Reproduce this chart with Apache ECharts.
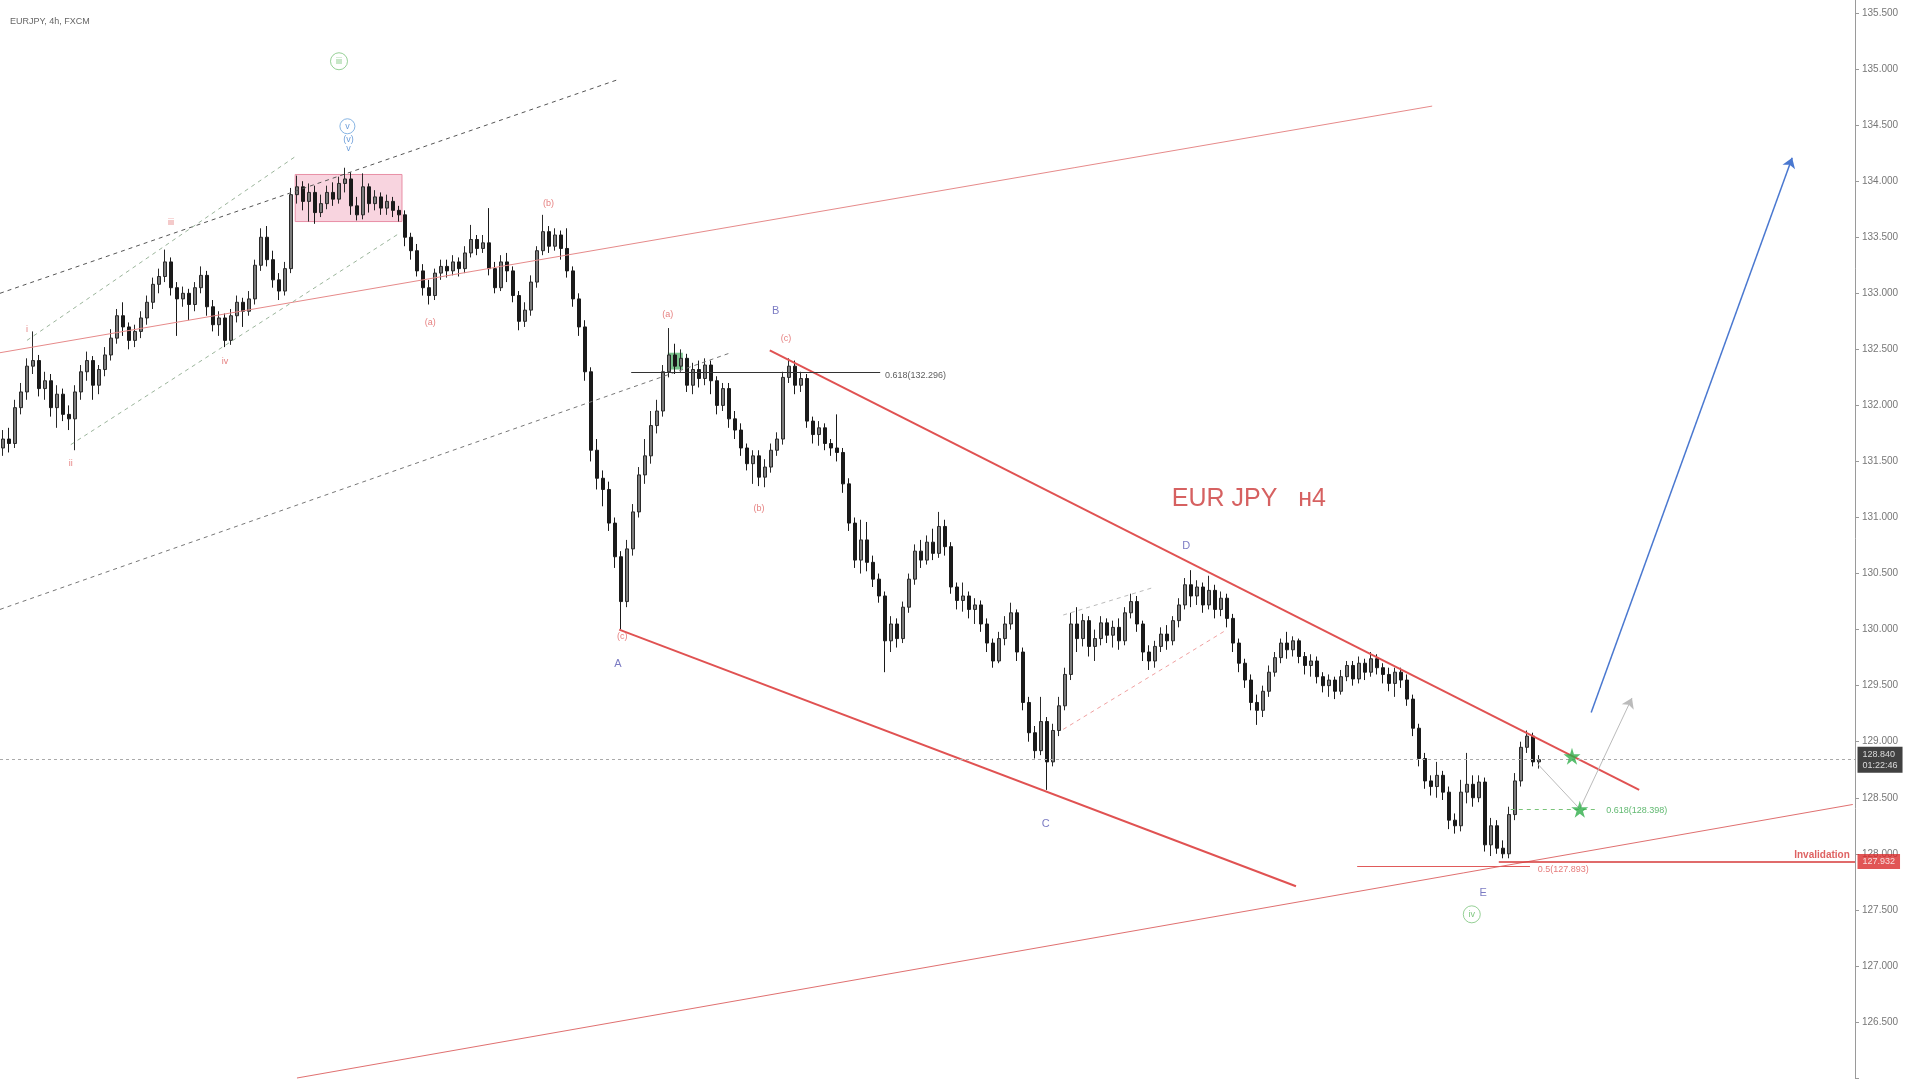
<!DOCTYPE html>
<html><head><meta charset="utf-8">
<script src="https://cdn.jsdelivr.net/npm/echarts@6/dist/echarts.min.js"></script>
<style>html,body{margin:0;padding:0;background:#fff}#c{width:1911px;height:1081px}</style>
</head><body><div id="c"></div>
<script>
// ---- candles: [open, close, low, high], one row per 4h bar ----
const waveI = [
[131.62,131.70,131.55,131.78],[131.70,131.66,131.58,131.80],[131.66,131.98,131.62,132.05],
[131.98,132.12,131.92,132.20],[132.12,132.35,132.05,132.42],[132.35,132.40,132.28,132.66]];
const waveII = [
[132.40,132.15,132.08,132.45],[132.15,132.22,132.05,132.30],[132.22,131.98,131.90,132.28],
[131.98,132.10,131.80,132.18],[132.10,131.92,131.86,132.15],[131.92,131.88,131.78,132.00],
[131.88,132.12,131.60,132.18]];
const waveIII = [
[132.12,132.30,132.05,132.36],[132.30,132.40,132.22,132.48],[132.40,132.18,132.05,132.44],
[132.18,132.32,132.10,132.36],[132.32,132.45,132.26,132.52],[132.45,132.60,132.40,132.68],
[132.60,132.80,132.55,132.86],[132.80,132.70,132.62,132.92],[132.70,132.58,132.50,132.74],
[132.58,132.66,132.52,132.72],[132.66,132.78,132.60,132.84],[132.78,132.92,132.72,132.98],
[132.92,133.08,132.86,133.14],[133.08,133.15,133.00,133.22],[133.15,133.28,133.10,133.39]];
const waveIV = [
[133.28,133.05,132.98,133.32],[133.05,132.95,132.62,133.10],[132.95,133.00,132.88,133.06],
[133.00,132.90,132.76,133.04],[132.90,133.05,132.84,133.10],[133.05,133.16,133.00,133.24],
[133.16,132.88,132.80,133.20],[132.88,132.72,132.66,132.94],[132.72,132.78,132.62,132.84],
[132.78,132.58,132.52,132.82],[132.58,132.80,132.54,132.86],[132.80,132.92,132.74,132.98],
[132.92,132.84,132.70,132.96],[132.84,132.95,132.80,133.02]];
const waveV = [
[132.95,133.25,132.90,133.30],[133.25,133.50,133.20,133.58],[133.50,133.30,133.24,133.60],
[133.30,133.12,133.05,133.38],[133.12,133.02,132.94,133.18],[133.02,133.22,132.98,133.28],
[133.22,133.88,133.18,133.94],[133.88,133.95,133.80,134.05],[133.95,133.82,133.74,134.00],
[133.82,133.90,133.64,133.98],[133.90,133.72,133.62,133.96],[133.72,133.80,133.68,133.88],
[133.80,133.90,133.75,133.96],[133.90,133.84,133.78,133.99],[133.84,133.98,133.80,134.04],
[133.98,134.02,133.90,134.12],[134.02,133.78,133.70,134.08]];
const waveA_a = [
[133.78,133.70,133.65,133.86],[133.70,133.95,133.66,134.07],[133.95,133.80,133.72,133.98],
[133.80,133.86,133.74,133.92],[133.86,133.76,133.70,133.90],[133.76,133.82,133.70,133.88],
[133.82,133.74,133.68,133.86],[133.74,133.70,133.64,133.78],[133.70,133.50,133.42,133.74],
[133.50,133.38,133.30,133.54],[133.38,133.20,133.15,133.44],[133.20,133.05,132.98,133.26],
[133.05,132.98,132.90,133.12],[132.98,133.18,132.94,133.22]];
const waveA_b = [
[133.18,133.24,133.12,133.30],[133.24,133.20,133.14,133.30],[133.20,133.28,133.16,133.34],
[133.28,133.22,133.15,133.32],[133.22,133.36,133.18,133.42],[133.36,133.48,133.32,133.61],
[133.48,133.40,133.34,133.52],[133.40,133.45,133.36,133.52],[133.45,133.22,133.16,133.76],
[133.22,133.05,133.00,133.28],[133.05,133.28,133.02,133.34],[133.28,133.20,133.10,133.36],
[133.20,132.98,132.92,133.24],[132.98,132.75,132.67,133.02],[132.75,132.85,132.70,132.92],
[132.85,133.10,132.80,133.16],[133.10,133.38,133.05,133.42],[133.38,133.55,133.34,133.70],
[133.55,133.42,133.36,133.60],[133.42,133.52,133.38,133.58],[133.52,133.40,133.30,133.56]];
const waveA_c = [
[133.40,133.20,133.14,133.58],[133.20,132.95,132.88,133.24],[132.95,132.70,132.62,133.00],
[132.70,132.30,132.22,132.76],[132.30,131.60,131.50,132.34],[131.60,131.35,131.25,131.70],
[131.35,131.25,131.10,131.42],[131.25,130.95,130.88,131.32],[130.95,130.65,130.55,131.00],
[130.65,130.25,130.00,130.70]];
const waveB_a = [
[130.25,130.72,130.20,130.80],[130.72,131.05,130.66,131.12],[131.05,131.38,131.00,131.45],
[131.38,131.55,131.30,131.70],[131.55,131.82,131.48,131.95],[131.82,131.95,131.75,132.05],
[131.95,132.30,131.90,132.36],[132.30,132.45,132.25,132.69],[132.45,132.35,132.28,132.55],
[132.35,132.42,132.30,132.50]];
const waveB_b = [
[132.42,132.18,132.12,132.46],[132.18,132.32,132.10,132.38],[132.32,132.24,132.16,132.40],
[132.24,132.36,132.18,132.42],[132.36,132.22,132.10,132.40],[132.22,132.00,131.92,132.26],
[132.00,132.15,131.95,132.20],[132.15,131.88,131.80,132.20],[131.88,131.78,131.70,131.95],
[131.78,131.62,131.55,131.84],[131.62,131.48,131.42,131.66],[131.48,131.55,131.30,131.60],
[131.55,131.36,131.28,131.60],[131.36,131.45,131.27,131.52]];
const waveB_c = [
[131.45,131.60,131.40,131.66],[131.60,131.70,131.55,131.76],[131.70,132.25,131.65,132.30],
[132.25,132.35,132.20,132.42]];
const waveC = [
[132.35,132.18,132.10,132.40],[132.18,132.24,132.12,132.30],[132.24,131.86,131.80,132.28],
[131.86,131.74,131.66,131.90],[131.74,131.80,131.64,131.86],[131.80,131.66,131.60,131.84],
[131.66,131.62,131.55,131.70],[131.62,131.58,131.50,131.92],[131.58,131.30,131.22,131.62],
[131.30,130.95,130.88,131.35],[130.95,130.62,130.55,131.00],[130.62,130.80,130.50,130.98],
[130.80,130.60,130.52,130.96],[130.60,130.45,130.38,130.66],[130.45,130.30,130.24,130.50],
[130.30,129.90,129.62,130.34],[129.90,130.05,129.80,130.12],[130.05,129.92,129.84,130.10],
[129.92,130.20,129.88,130.25],[130.20,130.45,130.15,130.50],[130.45,130.70,130.40,130.76],
[130.70,130.62,130.55,130.80],[130.62,130.78,130.58,130.84],[130.78,130.68,130.62,130.90],
[130.68,130.92,130.64,131.05],[130.92,130.74,130.66,130.98],[130.74,130.38,130.32,130.78],
[130.38,130.26,130.18,130.42],[130.26,130.30,130.16,130.42],[130.30,130.18,130.10,130.34],
[130.18,130.22,130.05,130.28],[130.22,130.05,129.98,130.26],[130.05,129.88,129.80,130.10],
[129.88,129.72,129.66,129.92],[129.72,129.92,129.70,129.98],[129.92,130.05,129.86,130.12],
[130.05,130.15,130.00,130.24],[130.15,129.80,129.72,130.18],[129.80,129.35,129.28,129.84],
[129.35,129.08,129.00,129.40],[129.08,128.92,128.85,129.14],[128.92,129.18,128.88,129.40],
[129.18,128.82,128.57,129.22]];
const waveD = [
[128.82,129.10,128.78,129.16],[129.10,129.32,129.05,129.40],[129.32,129.60,129.28,129.66],
[129.60,130.05,129.55,130.15],[130.05,129.92,129.80,130.20],[129.92,130.08,129.85,130.14],
[130.08,129.85,129.76,130.12],[129.85,129.92,129.72,130.00],[129.92,130.06,129.86,130.12],
[130.06,129.95,129.88,130.10],[129.95,130.02,129.84,130.08],[130.02,129.90,129.82,130.10],
[129.90,130.15,129.86,130.20],[130.15,130.25,130.10,130.32],[130.25,130.05,129.98,130.30],
[130.05,129.80,129.72,130.08],[129.80,129.72,129.64,129.86],[129.72,129.85,129.66,129.90],
[129.85,129.96,129.80,130.02],[129.96,129.90,129.82,130.04],[129.90,130.08,129.86,130.12],
[130.08,130.22,130.02,130.28],[130.22,130.40,130.18,130.46],[130.40,130.30,130.20,130.53],
[130.30,130.38,130.22,130.44],[130.38,130.22,130.15,130.42],[130.22,130.35,130.18,130.48],
[130.35,130.18,130.10,130.40],[130.18,130.28,130.12,130.34],[130.28,130.10,130.02,130.32],
[130.10,129.88,129.80,130.14]];
const waveE = [
[129.88,129.70,129.62,129.92],[129.70,129.55,129.48,129.74],[129.55,129.35,129.28,129.60],
[129.35,129.28,129.15,129.42],[129.28,129.45,129.22,129.50],[129.45,129.62,129.40,129.68],
[129.62,129.75,129.58,129.80],[129.75,129.88,129.70,129.92],[129.88,129.82,129.74,129.98],
[129.82,129.90,129.76,129.94],[129.90,129.76,129.70,129.92],[129.76,129.68,129.60,129.80],
[129.68,129.72,129.58,129.78],[129.72,129.58,129.52,129.76],[129.58,129.50,129.44,129.62],
[129.50,129.55,129.40,129.60],[129.55,129.45,129.38,129.58],[129.45,129.58,129.42,129.64],
[129.58,129.68,129.54,129.72],[129.68,129.56,129.50,129.72],[129.56,129.70,129.52,129.76],
[129.70,129.62,129.55,129.74],[129.62,129.74,129.58,129.80],[129.74,129.66,129.60,129.78],
[129.66,129.60,129.52,129.70],[129.60,129.52,129.45,129.66],[129.52,129.62,129.40,129.66],
[129.62,129.55,129.48,129.66],[129.55,129.38,129.32,129.60],[129.38,129.12,129.05,129.42],
[129.12,128.85,128.78,129.16],[128.85,128.65,128.58,128.90],[128.65,128.60,128.52,128.70],
[128.60,128.70,128.50,128.82],[128.70,128.55,128.48,128.74],[128.55,128.30,128.22,128.60],
[128.30,128.25,128.18,128.36],[128.25,128.55,128.20,128.66],[128.55,128.62,128.45,128.90],
[128.62,128.50,128.42,128.70],[128.50,128.64,128.46,128.70],[128.64,128.08,128.02,128.68],
[128.08,128.25,127.98,128.32]];
const waveFinal = [
[128.25,128.05,128.00,128.30],[128.05,128.00,127.96,128.12],[128.00,128.35,127.96,128.42],
[128.35,128.65,128.30,128.72],[128.65,128.95,128.60,129.00],[128.95,129.05,128.90,129.10],
[129.05,128.82,128.78,129.08],[128.82,128.84,128.76,128.88]];

// ---- drawn lines: [[bar, price], [bar, price]] ----
const trendUpperThin = [[-0.5,132.47],[238.2,134.67]];
const trendLowerLong = [[49,126.0],[308.3,128.44]];
const channelTop = [[127.8,132.49],[272.7,128.57]];
const channelBottom = [[102.7,130.0],[215.5,127.71]];
const dashUpperDark = [[-0.5,133.0],[102.7,134.91]];
const dashLowerGray = [[-0.5,130.18],[121.3,132.47]];
const dashWaveTop = [[4,132.58],[49,134.23]];
const dashWaveBottom = [[11.3,131.65],[66.2,133.54]];
const dashDTop = [[176.7,130.13],[192,130.38]];
const dashDBottom = [[176.7,129.11],[203.7,129.99]];
const fib618Line = [[104.7,132.296],[146.2,132.296]];
const fib05Line = [[225.7,127.893],[254.5,127.893]];
const invalidLine = [[249.3,127.932],[308.67,127.932]];
const priceLine = [[-0.5,128.84],[308.67,128.84]];
const fibGreenLine = [[251.3,128.398],[265.7,128.398]];
const pathDown = [[255.8,128.80],[262.8,128.40]];
const pathUp = [[262.8,128.40],[271.5,129.39]];
const blueArrow = [[264.7,129.26],[298.2,134.21]];

// ---- boxes: [[bar1, price1],[bar2, price2]] ----
const pinkBox = [[48.7,134.06],[66.5,133.64]];
const greenBox = [[110.8,132.47],[113.3,132.32]];

// ---- stars ----
const stars = [[261.5,128.87],[262.8,128.398]];

// ---- texts: [text, bar, price] ----
const redLabels = [['i',4,132.68],['ii',11.3,131.48],['iii',28,133.63],['iv',37,132.39],
  ['(a)',71.2,132.74],['(b)',90.9,133.80],['(c)',103.2,129.94],
  ['(a)',110.8,132.81],['(b)',126,131.08],['(c)',130.5,132.60]];
const blueLetters = [['A',102.5,129.69],['B',128.8,132.84],['C',173.8,128.27],['D',197.2,130.75],['E',246.7,127.65]];
const greenCircled = [['iii',56,135.07],['iv',244.8,127.46]];
const blueCircled = [['v',57.4,134.49]];
const blueSmall = [['(v)',57.6,134.37],['v',57.6,134.29]];
const fibTexts = [['0.618(132.296)',147,132.27]];
const redFibTexts = [['0.5(127.893)',255.8,127.86]];
const greenFibTexts = [['0.618(128.398)',267.2,128.39]];
const bigTitle = [['EUR JPY   н4',194.8,131.16]];
const invalidText = [['Invalidation',307.8,127.99]];
const lastPrice = [['128.840\n01:22:46',308.67,128.84]];
const invalidPrice = [['127.932',308.67,127.932]];

const candles = [].concat(waveI,waveII,waveIII,waveIV,waveV,waveA_a,waveA_b,waveA_c,
  waveB_a,waveB_b,waveB_c,waveC,waveD,waveE,waveFinal);
const candleRows = candles.map((d,i)=>[i,d[0],d[1],d[2],d[3]]);

function seg(pts, style, arrow){
  return [{coord:pts[0], symbol:'none', lineStyle:style},
          {coord:pts[1], symbol: arrow ? 'arrow' : 'none', symbolSize: arrow ? 10 : 0}];
}
const RED='#e05252';
const lines = [
  seg(trendUpperThin,{color:'#e68a8a',width:1,type:'solid'}),
  seg(trendLowerLong,{color:'#e07070',width:1,type:'solid'}),
  seg(channelTop,{color:RED,width:2,type:'solid'}),
  seg(channelBottom,{color:RED,width:2,type:'solid'}),
  seg(dashUpperDark,{color:'#555',width:1,type:[4,4]}),
  seg(dashLowerGray,{color:'#777',width:1,type:[4,4]}),
  seg(dashWaveTop,{color:'#9bb59b',width:1,type:[4,4]}),
  seg(dashWaveBottom,{color:'#9bb59b',width:1,type:[4,4]}),
  seg(dashDTop,{color:'#bbbbbb',width:1,type:[4,4]}),
  seg(dashDBottom,{color:'#f0a0a0',width:1,type:[4,4]}),
  seg(fib618Line,{color:'#333',width:1,type:'solid'}),
  seg(fib05Line,{color:'#e05a5a',width:1,type:'solid'}),
  seg(invalidLine,{color:'#d63a3a',width:1.5,type:'solid'}),
  seg(priceLine,{color:'#aaaaaa',width:1,type:[3,3]}),
  seg(fibGreenLine,{color:'#7ac47a',width:1,type:[4,4]}),
  seg(pathDown,{color:'#bbbbbb',width:1,type:'solid'}),
  seg(pathUp,{color:'#bbbbbb',width:1,type:'solid'},true),
  seg(blueArrow,{color:'#4a78d0',width:1.5,type:'solid'},true)
];

function textSeries(arr, label, extra){
  return Object.assign({
    type:'scatter', z:6, symbol:'circle', symbolSize:1, silent:true,
    itemStyle:{color:'rgba(0,0,0,0)'},
    data: arr.map(d=>({value:[d[1],d[2]], label:{formatter:d[0]}})),
    label: Object.assign({show:true, position:'inside', fontFamily:'Liberation Sans'}, label)
  }, extra||{});
}

const chart = echarts.init(document.getElementById('c'));
chart.setOption({
  animation:false,
  backgroundColor:'#ffffff',
  title:{text:'EURJPY, 4h, FXCM', left:5, top:12,
    textStyle:{fontSize:9, fontWeight:'normal', color:'#666', fontFamily:'Liberation Sans'}},
  grid:{left:0, right:56, top:-43, bottom:3, containLabel:false, outerBoundsMode:'none'},
  xAxis:{type:'value', min:-0.5, max:308.67, show:false, splitLine:{show:false}},
  yAxis:{type:'value', position:'right', min:126, max:136, interval:0.5, scale:true,
    splitLine:{show:false},
    axisLine:{show:true, onZero:false, lineStyle:{color:'#9a9a9a'}},
    axisTick:{show:true, length:4, lineStyle:{color:'#9a9a9a'}},
    axisLabel:{color:'#777', fontSize:10, margin:7, fontFamily:'Liberation Sans',
      formatter:v=> (v<=126.01||v>=135.99)?'':v.toFixed(3)}},
  series:[
    {type:'line', data:[], z:1, silent:true,
     markArea:{silent:true, data:[
       [{coord:pinkBox[0], itemStyle:{color:'rgba(240,160,185,0.45)', borderColor:'#e88ea5', borderWidth:1}},{coord:pinkBox[1]}],
       [{coord:greenBox[0], itemStyle:{color:'rgba(50,165,80,0.65)'}},{coord:greenBox[1]}]
     ]}},
    {type:'candlestick', z:3, data:candleRows, encode:{x:0,y:[1,2,3,4]}, barWidth:3.4,
     itemStyle:{color:'#7a7a7a', color0:'#1a1a1a', borderColor:'#2a2a2a', borderColor0:'#1a1a1a', borderWidth:1}},
    {type:'line', data:[], z:4, silent:true,
     markLine:{silent:true, animation:false, symbol:['none','none'], label:{show:false}, data:lines}},
    {type:'scatter', z:5, silent:true,
     symbol:'path://M50,0 L61,35 L98,35 L68,57 L79,91 L50,70 L21,91 L32,57 L2,35 L39,35 Z',
     symbolSize:17, itemStyle:{color:'#2fae4a'}, data:stars},
    textSeries(redLabels,{color:'#e06060', fontSize:9}),
    textSeries(blueLetters,{color:'#5a5ab4', fontSize:11}),
    Object.assign(textSeries(greenCircled,{color:'#5cb85c', fontSize:9}),
      {symbolSize:17, itemStyle:{color:'#fff', borderColor:'#7cc47c', borderWidth:1}}),
    Object.assign(textSeries(blueCircled,{color:'#4a86d0', fontSize:9}),
      {symbolSize:15, itemStyle:{color:'#fff', borderColor:'#6aa2dc', borderWidth:1}}),
    textSeries(blueSmall,{color:'#4a86d0', fontSize:9}),
    textSeries(fibTexts,{color:'#333', fontSize:9, align:'left'}),
    textSeries(redFibTexts,{color:'#e05a5a', fontSize:9, align:'left'}),
    textSeries(greenFibTexts,{color:'#3aa84e', fontSize:9, align:'left'}),
    textSeries(bigTitle,{color:'#cc3a3a', fontSize:25, align:'left'}),
    textSeries(invalidText,{color:'#d63a3a', fontSize:10, fontWeight:'bold', align:'right'}),
    textSeries(lastPrice,{position:'right', distance:2, color:'#fff', backgroundColor:'#111',
      fontSize:9, lineHeight:11, padding:[2,5,2,5], align:'left'}, {clip:false}),
    textSeries(invalidPrice,{position:'right', distance:2, color:'#fff', backgroundColor:'#d92b2b',
      fontSize:9, lineHeight:11, padding:[2,5,2,5], align:'left'}, {clip:false})
  ]
});
</script></body></html>
